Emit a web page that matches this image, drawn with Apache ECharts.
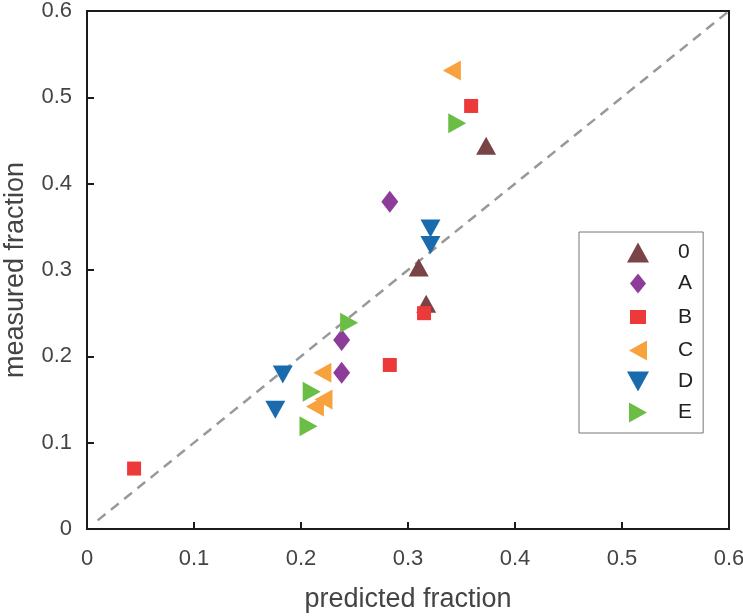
<!DOCTYPE html>
<html>
<head>
<meta charset="utf-8">
<script src="https://cdn.jsdelivr.net/npm/echarts@6/dist/echarts.min.js"></script>
<style>html,body{margin:0;padding:0;background:#fff}#c{width:743px;height:616px}</style>
</head>
<body>
<div id="c"></div>
<script>
const seriesNames = ['0', 'A', 'B', 'C', 'D', 'E'];
const data0 = [[0.373, 0.444], [0.310, 0.303], [0.317, 0.261]];
const dataA = [[0.283, 0.379], [0.238, 0.219], [0.238, 0.181]];
const dataB = [[0.359, 0.490], [0.315, 0.250], [0.283, 0.190], [0.044, 0.070]];
const dataC = [[0.341, 0.531], [0.220, 0.181], [0.221, 0.150], [0.213, 0.142]];
const dataD = [[0.321, 0.348], [0.321, 0.329], [0.183, 0.179], [0.176, 0.138]];
const dataE = [[0.346, 0.470], [0.245, 0.239], [0.210, 0.159], [0.207, 0.119]];
const identityLine = [[0.01, 0.01], [0.6, 0.6]];
const xTicks = [0, 0.1, 0.2, 0.3, 0.4, 0.5, 0.6];
const yTicks = [0, 0.1, 0.2, 0.3, 0.4, 0.5, 0.6];

const styles = {
  '0': {color: '#7A4447', symbol: 'triangle', size: [20, 18], rot: 0, icon: 'path://M0,18L10,0L20,18Z'},
  'A': {color: '#8E3C9A', symbol: 'diamond', size: [17, 22], rot: 0, icon: 'path://M8,0L16,10L8,20L0,10Z'},
  'B': {color: '#EC3A3B', symbol: 'rect', size: [14, 14], rot: 0, icon: 'rect'},
  'C': {color: '#F7A23C', symbol: 'triangle', size: [20, 18], rot: 90, icon: 'path://M18,0L18,20L0,10Z'},
  'D': {color: '#1A6AAE', symbol: 'triangle', size: [20, 18], rot: 180, icon: 'path://M0,0L20,0L10,18Z'},
  'E': {color: '#6ABD45', symbol: 'triangle', size: [20, 18], rot: -90, icon: 'path://M0,0L18,10L0,20Z'}
};
const allData = {'0': data0, 'A': dataA, 'B': dataB, 'C': dataC, 'D': dataD, 'E': dataE};

const font = 'Liberation Sans, Arial, sans-serif';
const fmt = v => (v === 0 ? '0' : String(Math.round(v * 10) / 10));

const chart = echarts.init(document.getElementById('c'), null, {renderer: 'canvas'});
const scatter = seriesNames.map(n => ({
  name: n,
  type: 'scatter',
  data: allData[n],
  symbol: styles[n].symbol,
  symbolSize: styles[n].size,
  symbolRotate: styles[n].rot,
  itemStyle: {color: styles[n].color, opacity: 1},
  z: 3
}));
const legendData = seriesNames.map(n => {
  const item = {name: n, icon: styles[n].icon, itemStyle: {color: styles[n].color}};
  if (n === 'B') item.itemStyle = {color: styles[n].color, borderColor: '#fff', borderWidth: 6};
  return item;
});
chart.setOption({
  animation: false,
  backgroundColor: '#fff',
  grid: {left: 87, right: 14, top: 11, bottom: 87, show: true, borderColor: '#1a1a1a', borderWidth: 2,
    containLabel: false, outerBoundsMode: 'none'},
  xAxis: {
    type: 'value', min: 0, max: 0.6, interval: 0.1,
    name: 'predicted fraction', nameLocation: 'middle', nameGap: 57,
    nameTextStyle: {fontFamily: font, fontSize: 27, color: '#444'},
    axisLine: {show: true, lineStyle: {color: '#1a1a1a', width: 2}},
    axisTick: {show: true, inside: true, length: 7, lineStyle: {color: '#1a1a1a', width: 2}},
    axisLabel: {fontFamily: font, fontSize: 22, color: '#444', margin: 19, formatter: fmt},
    splitLine: {show: false}
  },
  yAxis: {
    type: 'value', min: 0, max: 0.6, interval: 0.1,
    name: 'measured fraction', nameLocation: 'middle', nameGap: 58,
    nameTextStyle: {fontFamily: font, fontSize: 27, color: '#444'},
    axisLine: {show: true, lineStyle: {color: '#1a1a1a', width: 2}},
    axisTick: {show: true, inside: true, length: 7, lineStyle: {color: '#1a1a1a', width: 2}},
    axisLabel: {fontFamily: font, fontSize: 22, color: '#444', margin: 15, formatter: fmt},
    splitLine: {show: false}
  },
  legend: {
    data: legendData,
    orient: 'vertical',
    left: 579, top: 232,
    itemWidth: 22, itemHeight: 20, itemGap: 10,
    padding: [10, 10, 10, 45],
    borderColor: '#777', borderWidth: 1,
    backgroundColor: '#fff',
    textStyle: {fontFamily: font, fontSize: 21, color: '#222', padding: [0, 0, 0, 24], width: 14}
  },
  series: [
    {
      name: 'identity', type: 'line', data: identityLine, symbol: 'none',
      lineStyle: {color: '#999', width: 2.5, type: [10, 7]}, z: 2, silent: true
    },
    ...scatter
  ]
});
</script>
</body>
</html>
